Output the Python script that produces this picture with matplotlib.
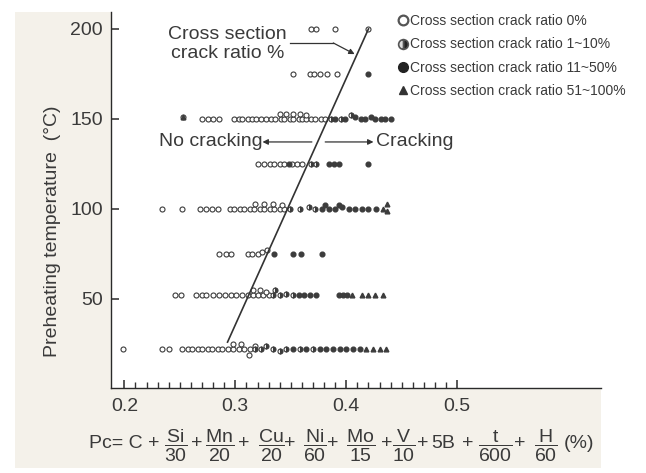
import matplotlib
matplotlib.use('Agg')
import matplotlib.pyplot as plt
import matplotlib.ticker as ticker
from matplotlib.lines import Line2D
from matplotlib.patches import Rectangle

plt.rcParams['font.family'] = ['Liberation Sans', 'DejaVu Sans']
plt.rcParams['mathtext.default'] = 'regular'

# --- data (Pc value, preheating temperature) ---
# cross section crack ratio 0%
open_pc = [0.368, 0.373, 0.390, 0.420,
           0.352, 0.367, 0.371, 0.376, 0.383, 0.392,
           0.253, 0.270, 0.275, 0.280, 0.285, 0.299, 0.303, 0.306, 0.311, 0.315,
           0.319, 0.323, 0.328, 0.332, 0.336, 0.341, 0.344, 0.349, 0.352, 0.357,
           0.360, 0.364, 0.368, 0.372, 0.377, 0.381, 0.340, 0.346, 0.352, 0.358, 0.364,
           0.320, 0.326, 0.331, 0.335, 0.340, 0.344, 0.351, 0.356, 0.360,
           0.234, 0.252, 0.268, 0.274, 0.279, 0.284, 0.295, 0.299, 0.304, 0.308,
           0.313, 0.317, 0.322, 0.326, 0.331, 0.335, 0.340, 0.344, 0.318, 0.326, 0.334, 0.342,
           0.285, 0.292, 0.296, 0.311, 0.315, 0.320, 0.324, 0.329,
           0.246, 0.251, 0.265, 0.270, 0.274, 0.280, 0.285, 0.291, 0.296, 0.301,
           0.306, 0.311, 0.316, 0.320, 0.325, 0.330, 0.316, 0.322, 0.328,
           0.199, 0.234, 0.240, 0.252, 0.257, 0.261, 0.266, 0.270, 0.275, 0.279,
           0.284, 0.288, 0.293, 0.298, 0.303, 0.308, 0.313, 0.298, 0.305, 0.312, 0.318]
open_t = [200, 200, 200, 200,
          175, 175, 175, 175, 175, 175,
          151, 150, 150, 150, 150, 150, 150, 150, 150, 150,
          150, 150, 150, 150, 150, 150, 150, 150, 150, 150,
          150, 150, 150, 150, 150, 150, 153, 153, 153, 153, 152,
          125, 125, 125, 125, 125, 125, 125, 125, 125,
          100, 100, 100, 100, 100, 100, 100, 100, 100, 100,
          100, 100, 100, 100, 100, 100, 100, 100, 103, 103, 103, 102,
          75, 75, 75, 75, 75, 75, 76, 77,
          52, 52, 52, 52, 52, 52, 52, 52, 52, 52,
          52, 52, 52, 52, 52, 52, 55, 55, 54,
          22, 22, 22, 22, 22, 22, 22, 22, 22, 22,
          22, 22, 22, 22, 22, 22, 22, 25, 25, 19, 24]

# cross section crack ratio 1~10%
half_pc = [0.386, 0.395, 0.404, 0.368, 0.373,
           0.349, 0.358, 0.366, 0.372,
           0.334, 0.340, 0.346, 0.352, 0.336,
           0.318, 0.323, 0.328, 0.334, 0.340,
           0.346, 0.358, 0.370]
half_t = [150, 150, 152, 125, 125,
          100, 100, 101, 100,
          52, 52, 53, 52, 55,
          22, 22, 24, 22, 21,
          22, 22, 22]

# cross section crack ratio 11~50%
full_pc = [0.420,
           0.390, 0.399, 0.408, 0.413, 0.417, 0.422, 0.426, 0.431, 0.435, 0.440,
           0.348, 0.384, 0.389, 0.393, 0.420,
           0.378, 0.384, 0.390, 0.396, 0.402, 0.408, 0.414, 0.420, 0.427, 0.381, 0.393,
           0.335, 0.352, 0.359, 0.378,
           0.357, 0.362, 0.367, 0.373, 0.393, 0.397, 0.401,
           0.376, 0.382, 0.388, 0.394, 0.400, 0.406, 0.412, 0.364, 0.352]
full_t = [175,
          150, 150, 151, 150, 150, 151, 150, 150, 150, 150,
          125, 125, 125, 125, 125,
          100, 100, 100, 101, 100, 100, 100, 100, 100, 102, 102,
          75, 75, 75, 75,
          52, 52, 52, 52, 52, 52, 52,
          22, 22, 22, 22, 22, 22, 22, 22, 22]

# cross section crack ratio 51~100%
tri_pc = [0.253, 0.433, 0.437, 0.437, 0.405, 0.414, 0.420, 0.426, 0.433, 0.418, 0.424, 0.430, 0.436]
tri_t = [151, 100, 103, 99, 52, 52, 52, 52, 52, 22, 22, 22, 22]

# boundary line
line_pc = [0.293, 0.420]
line_t = [26, 200]

xticks = [0.2, 0.3, 0.4, 0.5]
xminor = [round(0.2 + 0.01 * i, 2) for i in range(31)]
yticks = [50, 100, 150, 200]

# formula pieces: (numerator, denominator, centre x in pixels)
formula_frac = [('Si', '30', 176), ('Mn', '20', 220), ('Cu', '20', 271), ('Ni', '60', 315),
                ('Mo', '15', 361), ('V', '10', 404), ('t', '600', 495), ('H', '60', 546)]
formula_plus = [197, 244, 290, 333, 387, 423, 468, 520]

txt = '#3a3a3a'
mk = '#3c3c3c'
beige = '#f4f1ea'

fig = plt.figure(figsize=(6.46, 4.73), dpi=100)
fig.patches.append(Rectangle((15 / 646, 1 - 468 / 473), (601 - 15) / 646, (468 - 12) / 473,
                             transform=fig.transFigure, facecolor=beige, edgecolor='none', zorder=-10))
ax = fig.add_axes([111 / 646, 85 / 473, 490 / 646, 376 / 473])
ax.set_facecolor('white')

ax.plot(open_pc, open_t, 'o', ms=3.6, mfc='white', mec=mk, mew=0.8, zorder=3)
ax.plot(half_pc, half_t, 'o', ms=3.6, fillstyle='right', mfc=mk, mfcalt='white', mec=mk, mew=0.8, zorder=3)
ax.plot(full_pc, full_t, 'o', ms=3.4, color=mk, mec=mk, zorder=3)
ax.plot(tri_pc, tri_t, '^', ms=3.4, color=mk, zorder=3)
ax.plot(line_pc, line_t, '-', color='#333333', lw=1.2, zorder=4)

# annotations
ax.text(0.2927, 191.6, 'Cross section\ncrack ratio %', ha='center', va='center',
        multialignment='center', fontsize=14, color=txt, linespacing=1.15)
ax.plot([0.3495, 0.3883], [192.2, 192.2], '-', color='#333333', lw=0.9)
ax.annotate('', xy=(0.4075, 186), xytext=(0.3883, 192.2),
            arrowprops=dict(arrowstyle='-|>', color='#333333', lw=0.9, mutation_scale=8,
                            shrinkA=0, shrinkB=0))
ax.annotate('', xy=(0.3245, 137.2), xytext=(0.369, 137.2),
            arrowprops=dict(arrowstyle='-|>', color='#333333', lw=0.9, mutation_scale=8,
                            shrinkA=0, shrinkB=0))
ax.annotate('', xy=(0.4245, 137.2), xytext=(0.381, 137.2),
            arrowprops=dict(arrowstyle='-|>', color='#333333', lw=0.9, mutation_scale=8,
                            shrinkA=0, shrinkB=0))
ax.text(0.3243, 137.2, 'No cracking', ha='right', va='center', fontsize=14, color=txt)
ax.text(0.4265, 137.2, 'Cracking', ha='left', va='center', fontsize=14, color=txt)

ax.set_xlim(0.188, 0.6295)
ax.set_ylim(0.5, 209.4)
for s in ['top', 'right']:
    ax.spines[s].set_visible(False)
for s in ['left', 'bottom']:
    ax.spines[s].set_color('#2a2a2a')
    ax.spines[s].set_linewidth(1.0)

ax.set_xticks(xticks)
ax.set_xticks(xminor, minor=True)
ax.xaxis.set_major_formatter(ticker.FormatStrFormatter('%.1f'))
ax.set_yticks(yticks)
ax.tick_params(axis='x', which='major', direction='in', length=6, width=1.1, color='#2a2a2a',
               labelsize=14, labelcolor=txt, pad=7, bottom=True)
ax.tick_params(axis='x', which='minor', direction='in', length=4, width=1.0, color='#333333',
               bottom=True)
ax.tick_params(axis='y', which='major', direction='in', length=6, width=1.1, color='#2a2a2a',
               labelsize=14, labelcolor=txt, pad=6, left=True)

fig.text(53 / 646, 1 - 231 / 473, 'Preheating temperature  (\u00b0C)', rotation=90,
         ha='center', va='center', fontsize=14, color=txt)

# Pc formula
fy = 1 - 446 / 473
fig.text(89 / 646, 1 - 443 / 473, 'Pc= C +', ha='left', va='center', fontsize=14, color=txt)
for num, den, cx in formula_frac:
    fig.text(cx / 646, fy, r'$\dfrac{%s}{%s}$' % (num, den), ha='center', va='center',
             fontsize=14, color=txt)
for cx in formula_plus:
    fig.text(cx / 646, 1 - 443 / 473, '+', ha='center', va='center', fontsize=14, color=txt)
fig.text(443 / 646, 1 - 443 / 473, '5B', ha='center', va='center', fontsize=14, color=txt)
fig.text(564 / 646, 1 - 443 / 473, '(%)', ha='left', va='center', fontsize=14, color=txt)

handles = [
    Line2D([], [], ls='none', marker='o', ms=7, mfc='white', mec='#555555', mew=1.6),
    Line2D([], [], ls='none', marker='o', ms=7, fillstyle='right', mfc='#222222', mfcalt='#dddddd',
           mec='#555555', mew=1.2),
    Line2D([], [], ls='none', marker='o', ms=7, color='#222222'),
    Line2D([], [], ls='none', marker='^', ms=6, color='#333333'),
]
labels = ['Cross section crack ratio 0%', 'Cross section crack ratio 1~10%',
          'Cross section crack ratio 11~50%', 'Cross section crack ratio 51~100%']
fig.legend(handles, labels, loc='upper left', bbox_to_anchor=(398 / 646, 1 - 14 / 473),
           frameon=False, fontsize=10, handlelength=0.7, handletextpad=0.2,
           labelspacing=0.68, borderpad=0, borderaxespad=0, labelcolor=txt)

fig.savefig('out.png', dpi=100, facecolor='white')
